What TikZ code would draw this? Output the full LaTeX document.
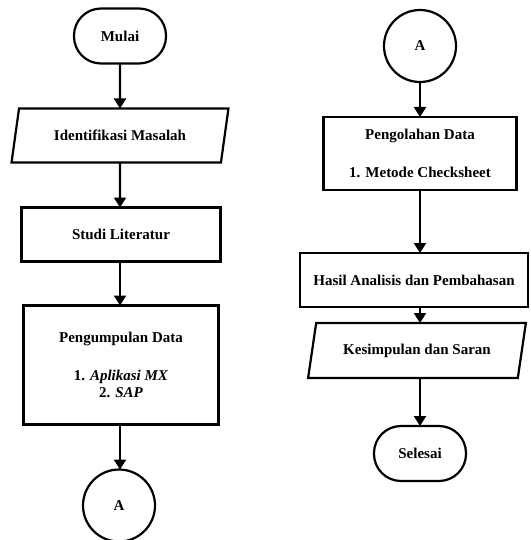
\documentclass[tikz,border=0pt]{standalone}
\usepackage{fontspec}
\setmainfont{Liberation Serif}
\usetikzlibrary{arrows.meta,positioning,shapes.geometric}
\definecolor{ink}{HTML}{000000}
\tikzset{
  flow/.style={-{Triangle[length=10pt,width=12pt]},line width=2.2pt,draw=ink},
  base/.style={draw=ink,line width=2.2pt,fill=white,align=center,inner sep=2pt,
               outer sep=0pt,font=\fontsize{15}{17}\selectfont\bfseries},
  terminal/.style={base,rounded corners=27pt,minimum width=92pt,minimum height=55pt},
  proc/.style={base,rectangle,minimum height=54pt},
  io/.style={base,trapezium,trapezium left angle=71,trapezium right angle=109,
             trapezium stretches=true,minimum height=54pt},
  conn/.style={base,circle,minimum size=72pt},
}
\begin{document}
\begin{tikzpicture}[x=1pt,y=-1pt]
    \useasboundingbox (0,0) rectangle (530,540);
    % kolom kiri
    \node[terminal] (mulai) at (120,36) {Mulai};
    \node[io,minimum width=217pt,below=45pt of mulai] (identifikasi)
      {Identifikasi Masalah};
    \node[proc,minimum width=199pt,below=45pt of identifikasi,xshift=1pt] (studi)
      {Studi Literatur};
    \node[proc,minimum width=195pt,minimum height=119pt,below=44pt of studi] (pengumpulan)
      {Pengumpulan Data\\[21pt]1. \textit{Aplikasi MX}\\2. \textit{SAP}};
    \node[conn,below=45pt of pengumpulan,xshift=-2pt] (konA) {A};
    % kolom kanan
    \node[conn] (konB) at (420,46) {A};
    \node[proc,minimum width=193pt,minimum height=73pt,below=35pt of konB] (pengolahan)
      {Pengolahan Data\\[21pt]1. Metode Checksheet};
    \node[proc,minimum width=228pt,below=63pt of pengolahan,xshift=-6pt] (hasil)
      {Hasil Analisis dan Pembahasan};
    \node[io,minimum width=218pt,minimum height=55pt,below=16pt of hasil,xshift=3pt] (kesimpulan)
      {Kesimpulan dan Saran};
    \node[terminal,below=48pt of kesimpulan,xshift=3pt] (selesai) {Selesai};
    \draw[flow] (mulai) -- (identifikasi);
    \draw[flow] (identifikasi) -- (identifikasi.south |- studi.north);
    \draw[flow] (identifikasi.south |- studi.south) -- (identifikasi.south |- pengumpulan.north);
    \draw[flow] (identifikasi.south |- pengumpulan.south) -- (identifikasi.south |- konA.north);
    \draw[flow] (konB) -- (pengolahan);
    \draw[flow] (pengolahan.south) -- (pengolahan.south |- hasil.north);
    \draw[flow] (pengolahan.south |- hasil.south) -- (pengolahan.south |- kesimpulan.north);
    \draw[flow] (pengolahan.south |- kesimpulan.south) -- (pengolahan.south |- selesai.north);
  \end{tikzpicture}
\end{document}
